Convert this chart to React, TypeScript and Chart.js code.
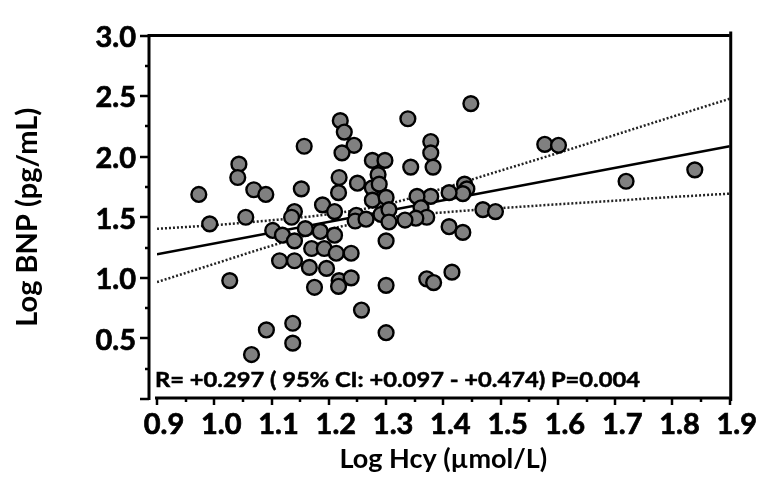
import React, { useEffect, useRef } from 'react';
import { Chart, registerables } from 'chart.js';

Chart.register(...registerables);

// Scatter data (log Hcy, log BNP)
const logHcy = [
  0.973, 0.992, 1.043, 1.041, 1.069, 1.090, 1.055, 1.027, 1.091, 1.065,
  1.102, 1.119, 1.114, 1.140, 1.137, 1.137, 1.157, 1.152, 1.140, 1.135,
  1.140, 1.159, 1.166, 1.170, 1.175, 1.189, 1.210, 1.185, 1.210, 1.192,
  1.213, 1.239, 1.196, 1.218, 1.217, 1.239, 1.257, 1.220, 1.227, 1.244,
  1.223, 1.276, 1.298, 1.286, 1.218, 1.250, 1.217, 1.276, 1.288, 1.276,
  1.300, 1.248, 1.246, 1.265, 1.291, 1.305, 1.305, 1.300, 1.300, 1.300,
  1.338, 1.448, 1.378, 1.378, 1.382, 1.343, 1.437, 1.441, 1.434, 1.410,
  1.378, 1.354, 1.361, 1.371, 1.352, 1.333, 1.469, 1.491, 1.410, 1.434,
  1.371, 1.383, 1.415, 1.577, 1.601, 1.719, 1.839,
];
const logBnp = [
  1.688, 1.445, 1.938, 1.828, 1.727, 1.688, 1.500, 0.977, 0.570, 0.367,
  1.391, 1.352, 1.141, 1.141, 0.625, 0.461, 2.086, 1.734, 1.547, 1.500,
  1.305, 1.406, 1.086, 1.242, 0.922, 1.602, 1.547, 1.383, 1.352, 1.242,
  1.203, 1.203, 1.078, 0.977, 0.930, 1.000, 0.734, 2.297, 2.203, 2.094,
  2.031, 1.969, 1.969, 1.852, 1.828, 1.781, 1.703, 1.742, 1.773, 1.641,
  1.664, 1.516, 1.469, 1.484, 1.523, 1.563, 1.461, 1.305, 0.938, 0.547,
  2.313, 2.438, 2.125, 2.031, 1.914, 1.914, 1.773, 1.734, 1.695, 1.703,
  1.672, 1.672, 1.578, 1.500, 1.492, 1.477, 1.563, 1.547, 1.422, 1.375,
  0.992, 0.961, 1.047, 2.102, 2.094, 1.797, 1.891,
];

// Regression line end points
const fitX = [0.9, 1.9];
const fitY = [1.195, 2.086];

// 95% confidence band
const ciX = [0.9, 1.0, 1.1, 1.2, 1.3, 1.4, 1.5, 1.6, 1.7, 1.8, 1.9];
const ciUpper = [1.405, 1.435, 1.475, 1.525, 1.605, 1.74, 1.885, 2.03, 2.18, 2.33, 2.478];
const ciLower = [0.965, 1.115, 1.265, 1.40, 1.495, 1.54, 1.575, 1.607, 1.637, 1.667, 1.695];

// Tick labels
const xTickLabels = ['0.9', '1.0', '1.1', '1.2', '1.3', '1.4', '1.5', '1.6', '1.7', '1.8', '1.9'];
const yTickLabels = ['0.5', '1.0', '1.5', '2.0', '2.5', '3.0'];

const xTitle = 'Log Hcy (\u00b5mol/L)';
const yTitle = 'Log BNP (pg/mL)';
const statText = 'R= +0.297 ( 95% CI: +0.097 - +0.474) P=0.004';

const FONT = "Lato, 'Open Sans', sans-serif";

const axesPlugin = {
  id: 'prismAxes',
  afterDatasetsDraw(chart: any) {
    const { ctx, chartArea, scales } = chart;
    const xs = scales.x;
    const ys = scales.y;
    const yAxisX = chartArea.left - 8;
    const xAxisY = chartArea.bottom - 1;
    ctx.save();
    ctx.strokeStyle = '#000';
    ctx.lineCap = 'butt';

    // frame: top and right
    ctx.lineWidth = 3;
    const topY = ys.getPixelForValue(3.0);
    ctx.beginPath();
    ctx.moveTo(yAxisX, topY);
    ctx.lineTo(chartArea.right, topY);
    ctx.stroke();
    ctx.beginPath();
    ctx.moveTo(chartArea.right + 1, topY - 4);
    ctx.lineTo(chartArea.right + 1, chartArea.bottom + 2);
    ctx.stroke();

    // y axis
    ctx.beginPath();
    ctx.moveTo(yAxisX, topY - 1.5);
    ctx.lineTo(yAxisX, ys.getPixelForValue(0) + 1);
    ctx.stroke();
    ctx.lineWidth = 2.5;
    ys.ticks.forEach((t: any) => {
      const py = Math.round(ys.getPixelForValue(t.value));
      const major = Math.abs(t.value * 2 - Math.round(t.value * 2)) < 1e-6;
      const len = major ? 9 : 4;
      ctx.beginPath();
      ctx.moveTo(yAxisX - len, py);
      ctx.lineTo(yAxisX, py);
      ctx.stroke();
    });

    // x axis
    ctx.lineWidth = 3;
    ctx.beginPath();
    ctx.moveTo(chartArea.left - 2, xAxisY);
    ctx.lineTo(chartArea.right, xAxisY);
    ctx.stroke();
    ctx.lineWidth = 2.5;
    xs.ticks.forEach((t: any) => {
      const px = Math.round(xs.getPixelForValue(t.value));
      const major = Math.abs(t.value * 10 - Math.round(t.value * 10)) < 1e-6;
      const len = major ? 7 : 4;
      ctx.beginPath();
      ctx.moveTo(px, xAxisY);
      ctx.lineTo(px, xAxisY + len);
      ctx.stroke();
    });

    // statistics text, fitted to the reference width
    ctx.fillStyle = '#000';
    ctx.strokeStyle = '#000';
    ctx.lineWidth = 0.5;
    ctx.font = `bold 21px ${FONT}`;
    ctx.textAlign = 'left';
    ctx.textBaseline = 'alphabetic';
    const w = ctx.measureText(statText).width;
    const targetW = 485;
    ctx.translate(chartArea.left - 2, 387);
    ctx.scale(targetW / w, 1);
    ctx.fillText(statText, 0, 0);
    ctx.strokeText(statText, 0, 0);
    ctx.restore();
  },
};

export default function App() {
  const canvasRef = useRef<HTMLCanvasElement | null>(null);

  useEffect(() => {
    document.body.style.margin = '0';
    const canvas = canvasRef.current;
    if (!canvas) return;
    const chart = new Chart(canvas, {
      type: 'scatter',
      data: {
        datasets: [
          {
            label: 'data',
            data: logHcy.map((x, i) => ({ x, y: logBnp[i] })),
            pointRadius: 7.4,
            pointBorderWidth: 2.4,
            pointBackgroundColor: '#808080',
            pointBorderColor: '#000',
            showLine: false,
          },
          {
            label: 'fit',
            data: fitX.map((x, i) => ({ x, y: fitY[i] })),
            showLine: true,
            pointRadius: 0,
            borderColor: '#000',
            borderWidth: 2.5,
          },
          {
            label: 'upper',
            data: ciX.map((x, i) => ({ x, y: ciUpper[i] })),
            showLine: true,
            pointRadius: 0,
            borderColor: '#222',
            borderWidth: 2.5,
            borderDash: [2, 2],
            cubicInterpolationMode: 'monotone',
          },
          {
            label: 'lower',
            data: ciX.map((x, i) => ({ x, y: ciLower[i] })),
            showLine: true,
            pointRadius: 0,
            borderColor: '#222',
            borderWidth: 2.5,
            borderDash: [2, 2],
            cubicInterpolationMode: 'monotone',
          },
        ] as any,
      },
      options: {
        responsive: false,
        maintainAspectRatio: false,
        animation: false,
        devicePixelRatio: 1,
        layout: { padding: { top: 15, right: 29, left: 0, bottom: 0 } },
        plugins: {
          legend: { display: false },
          tooltip: { enabled: false },
        },
        scales: {
          x: {
            type: 'linear',
            min: 0.9,
            max: 1.9,
            grid: { display: false, drawTicks: false },
            border: { display: false },
            ticks: {
              stepSize: 0.05,
              autoSkip: false,
              maxRotation: 0,
              padding: 11,
              labelOffset: 7,
              color: '#000',
              textStrokeColor: '#000',
              textStrokeWidth: 0.7,
              font: { family: FONT, weight: 'bold', size: 29, lineHeight: 1 },
              callback: (v: any) => {
                const s = Number(v).toFixed(1);
                const isMajor = Math.abs(Number(v) * 10 - Math.round(Number(v) * 10)) < 1e-6;
                return isMajor && xTickLabels.includes(s) ? s : '';
              },
            },
            title: {
              display: true,
              text: xTitle,
              color: '#000',
              font: { family: FONT, weight: 'bold', size: 27 },
              padding: { top: 0, bottom: 8 },
            },
            afterFit: (scale: any) => {
              scale.height = 84;
            },
          },
          y: {
            type: 'linear',
            min: 0,
            max: 3,
            grid: { display: false, drawTicks: false },
            border: { display: false },
            ticks: {
              stepSize: 0.25,
              autoSkip: false,
              padding: 21,
              labelOffset: 2,
              color: '#000',
              textStrokeColor: '#000',
              textStrokeWidth: 0.7,
              font: { family: FONT, weight: 'bold', size: 29, lineHeight: 1 },
              callback: (v: any) => {
                const s = Number(v).toFixed(1);
                const isMajor = Math.abs(Number(v) * 2 - Math.round(Number(v) * 2)) < 1e-6;
                return isMajor && yTickLabels.includes(s) ? s : '';
              },
            },
            title: {
              display: true,
              text: yTitle,
              color: '#000',
              font: { family: FONT, weight: 'bold', size: 29 },
              padding: { top: 10, bottom: 0 },
            },
            afterFit: (scale: any) => {
              scale.width = 157;
            },
          },
        },
      } as any,
      plugins: [axesPlugin],
    });
    return () => chart.destroy();
  }, []);

  return (
    <div style={{ width: 761, height: 483, background: '#fff' }}>
      <canvas ref={canvasRef} width={761} height={483} style={{ display: 'block' }} />
    </div>
  );
}
